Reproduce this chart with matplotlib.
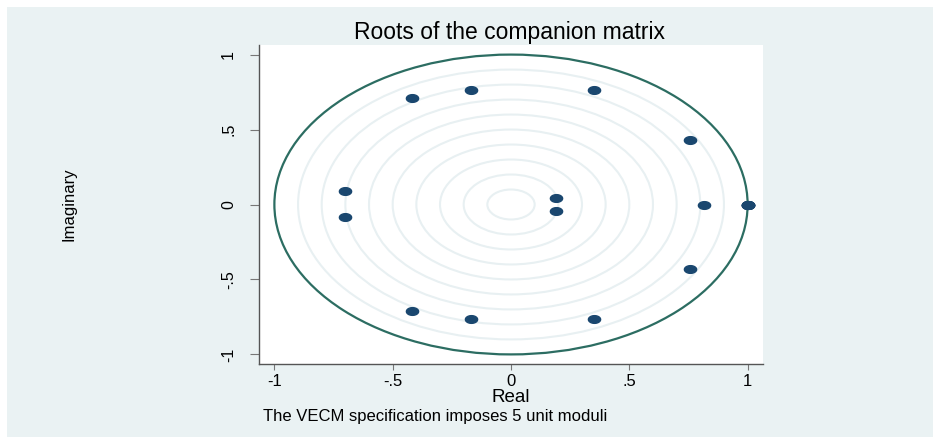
import matplotlib
matplotlib.use("Agg")
import matplotlib.pyplot as plt
from matplotlib.patches import Circle, Rectangle
from matplotlib.path import Path
import numpy as np

# Eigenvalues of the companion matrix
real_parts = [0.352, -0.168, -0.419, 0.758, -0.703, -0.703, 0.191, 0.191,
              0.814, 1.0, 1.0, 1.0, 1.0, 1.0, 0.758, -0.419, -0.168, 0.352]
imag_parts = [0.766, 0.766, 0.712, 0.431, 0.088, -0.085, 0.042, -0.043,
              0.0, 0.0, 0.0, 0.0, 0.0, 0.0, -0.431, -0.712, -0.766, -0.766]
grid_radii = [0.1, 0.2, 0.3, 0.4, 0.5, 0.6, 0.7, 0.8, 0.9]
x_ticks = [-1, -0.5, 0, 0.5, 1]
x_tick_labels = ["-1", "-.5", "0", ".5", "1"]
y_ticks = [-1, -0.5, 0, 0.5, 1]
y_tick_labels = ["-1", "-.5", "0", ".5", "1"]

plt.rcParams["font.family"] = ["Liberation Sans", "DejaVu Sans"]

W, H = 933, 437
fig = plt.figure(figsize=(W / 100, H / 100), dpi=100)
fig.patch.set_facecolor("white")

# light outer region, Stata-like
fig.patches.append(Rectangle((7 / W, 0), 1 - 7 / W, 1 - 7 / H,
                             transform=fig.transFigure,
                             facecolor="#EAF2F3", edgecolor="none", zorder=-5))

ax = fig.add_axes([259 / W, (H - 364) / H, 504 / W, 319 / H])
ax.set_zorder(1)
ax.set_facecolor("white")
ax.set_xlim(-1.065, 1.065)
ax.set_ylim(-1.064, 1.064)

for r in grid_radii:
    ax.add_patch(Circle((0, 0), r, fill=False, edgecolor="#E8F0F2",
                        linewidth=1.5, zorder=1))
ax.add_patch(Circle((0, 0), 1.0, fill=False, edgecolor="#2C6D62",
                    linewidth=1.6, zorder=2))

# slightly flattened marker, like the stretched original
t = np.linspace(0, 2 * np.pi, 60)
ellipse = Path(np.column_stack([np.cos(t), 0.63 * np.sin(t)]), closed=True)
ax.plot(real_parts, imag_parts, linestyle="none", marker=ellipse,
        markersize=8.8, color="#1A476F", zorder=3)

for side in ["top", "right"]:
    ax.spines[side].set_visible(False)
for side in ["left", "bottom"]:
    ax.spines[side].set_color("#555555")
    ax.spines[side].set_linewidth(1.0)

ax.set_xticks(x_ticks)
ax.set_xticklabels(x_tick_labels, fontsize=12)
ax.set_yticks(y_ticks)
ax.set_yticklabels(y_tick_labels, fontsize=11.5, rotation=90, va="center")
ax.tick_params(axis="x", length=4.5, width=0.8, color="#777777", pad=3)
ax.tick_params(axis="y", length=6.5, width=0.8, color="#777777", pad=10)

ax.set_xlabel("Real", fontsize=13.5, labelpad=0)

fig.text(69 / W, 1 - 204 / H, "Imaginary", rotation=90, fontsize=12,
         ha="center", va="center")
fig.text(510 / W, 1 - 33 / H, "Roots of the companion matrix", fontsize=16.5,
         ha="center", va="center")
fig.text(263 / W, 1 - 417 / H, "The VECM specification imposes 5 unit moduli",
         fontsize=12, ha="left", va="center")

fig.savefig("out.png", dpi=100)
